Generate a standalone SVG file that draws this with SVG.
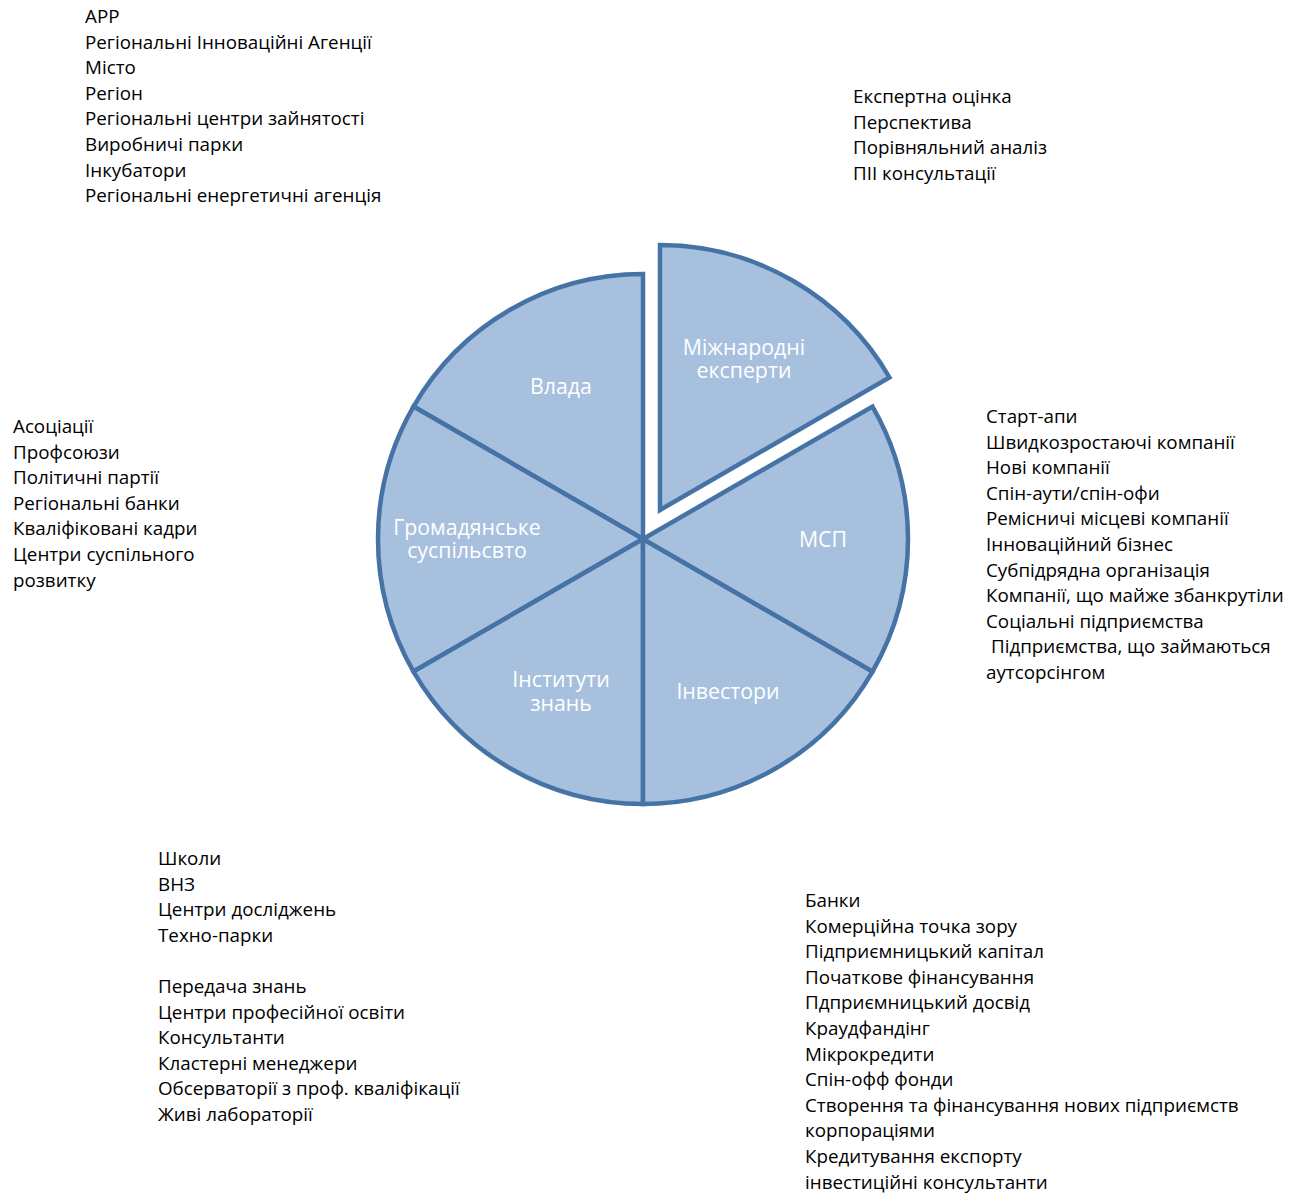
<svg xmlns="http://www.w3.org/2000/svg" width="1298" height="1195" viewBox="0 0 1298 1195">
<style>
.sec{fill:#a7c0de;stroke:#4673a6;stroke-width:4.5}
.lbl{font-family:"Open Sans","Liberation Sans",Arial,sans-serif;font-size:21.3px;fill:#ffffff;text-anchor:middle}
.lst{font-family:"Open Sans","Liberation Sans",Arial,sans-serif;font-size:18.8px;fill:#000000}
</style>
<rect width="1298" height="1195" fill="#ffffff"/>
<g id="pie">
<g id="vlada"><path class="sec" d="M643,539 L643,274 A265,265 0 0 0 413.5,406.5 Z"/><text class="lbl" x="561" y="394">Влада</text></g>
<g id="hromadianske"><path class="sec" d="M643,539 L413.5,406.5 A265,265 0 0 0 413.5,671.5 Z"/><text class="lbl" x="467" y="535">Громадянське<tspan x="467" y="558">суспільсвто</tspan></text></g>
<g id="instytuty"><path class="sec" d="M643,539 L413.5,671.5 A265,265 0 0 0 643,804 Z"/><text class="lbl" x="561" y="687">Інститути<tspan x="561" y="711">знань</tspan></text></g>
<g id="investory"><path class="sec" d="M643,539 L643,804 A265,265 0 0 0 872.5,671.5 Z"/><text class="lbl" x="728" y="699">Інвестори</text></g>
<g id="msp"><path class="sec" d="M643,539 L872.5,671.5 A265,265 0 0 0 872.5,406.5 Z"/><text class="lbl" x="823" y="547">МСП</text></g>
<g id="mizhnarodni"><path class="sec" d="M660,510 L889.5,377.5 A265,265 0 0 0 660,245 Z"/><text class="lbl" x="744" y="355">Міжнародні<tspan x="744" y="378">експерти</tspan></text></g>
</g>
<g id="connectors"></g>
<g id="list-vlada">
<text class="lst" x="85" y="23">АРР</text>
<text class="lst" x="85" y="48.6">Регіональні Інноваційні Агенції</text>
<text class="lst" x="85" y="74.2">Місто</text>
<text class="lst" x="85" y="99.8">Регіон</text>
<text class="lst" x="85" y="125.4">Регіональні центри зайнятості</text>
<text class="lst" x="85" y="151">Виробничі парки</text>
<text class="lst" x="85" y="176.6">Інкубатори</text>
<text class="lst" x="85" y="202.2">Регіональні енергетичні агенція</text>
</g>
<g id="list-experty">
<text class="lst" x="853" y="103">Експертна оцінка</text>
<text class="lst" x="853" y="128.6">Перспектива</text>
<text class="lst" x="853" y="154.2">Порівняльний аналіз</text>
<text class="lst" x="853" y="179.8">ПІІ консультації</text>
</g>
<g id="list-hromada">
<text class="lst" x="13" y="433">Асоціації</text>
<text class="lst" x="13" y="458.6">Профсоюзи</text>
<text class="lst" x="13" y="484.2">Політичні партії</text>
<text class="lst" x="13" y="509.8">Регіональні банки</text>
<text class="lst" x="13" y="535.4">Кваліфіковані кадри</text>
<text class="lst" x="13" y="561">Центри суспільного</text>
<text class="lst" x="13" y="586.6">розвитку</text>
</g>
<g id="list-msp">
<text class="lst" x="986" y="423">Старт-апи</text>
<text class="lst" x="986" y="448.6">Швидкозростаючі компанії</text>
<text class="lst" x="986" y="474.2">Нові компанії</text>
<text class="lst" x="986" y="499.8">Спін-аути/спін-офи</text>
<text class="lst" x="986" y="525.4">Ремісничі місцеві компанії</text>
<text class="lst" x="986" y="551">Інноваційний бізнес</text>
<text class="lst" x="986" y="576.6">Субпідрядна організація</text>
<text class="lst" x="986" y="602.2">Компанії, що майже збанкрутіли</text>
<text class="lst" x="986" y="627.8">Соціальні підприємства</text>
<text class="lst" x="991" y="653.4">Підприємства, що займаються</text>
<text class="lst" x="986" y="679">аутсорсінгом</text>
</g>
<g id="list-instytuty">
<text class="lst" x="158" y="865">Школи</text>
<text class="lst" x="158" y="890.6">ВНЗ</text>
<text class="lst" x="158" y="916.2">Центри досліджень</text>
<text class="lst" x="158" y="941.8">Техно-парки</text>
<text class="lst" x="158" y="993">Передача знань</text>
<text class="lst" x="158" y="1018.6">Центри професійної освіти</text>
<text class="lst" x="158" y="1044.2">Консультанти</text>
<text class="lst" x="158" y="1069.8">Кластерні менеджери</text>
<text class="lst" x="158" y="1095.4">Обсерваторії з проф. кваліфікації</text>
<text class="lst" x="158" y="1121">Живі лабораторії</text>
</g>
<g id="list-investory">
<text class="lst" x="805" y="907">Банки</text>
<text class="lst" x="805" y="932.6">Комерційна точка зору</text>
<text class="lst" x="805" y="958.2">Підприємницький капітал</text>
<text class="lst" x="805" y="983.8">Початкове фінансування</text>
<text class="lst" x="805" y="1009.4">Пдприємницький досвід</text>
<text class="lst" x="805" y="1035">Краудфандінг</text>
<text class="lst" x="805" y="1060.6">Мікрокредити</text>
<text class="lst" x="805" y="1086.2">Спін-офф фонди</text>
<text class="lst" x="805" y="1111.8">Створення та фінансування нових підприємств</text>
<text class="lst" x="805" y="1137.4">корпораціями</text>
<text class="lst" x="805" y="1163">Кредитування експорту</text>
<text class="lst" x="805" y="1188.6">інвестиційні консультанти</text>
</g>
</svg>
